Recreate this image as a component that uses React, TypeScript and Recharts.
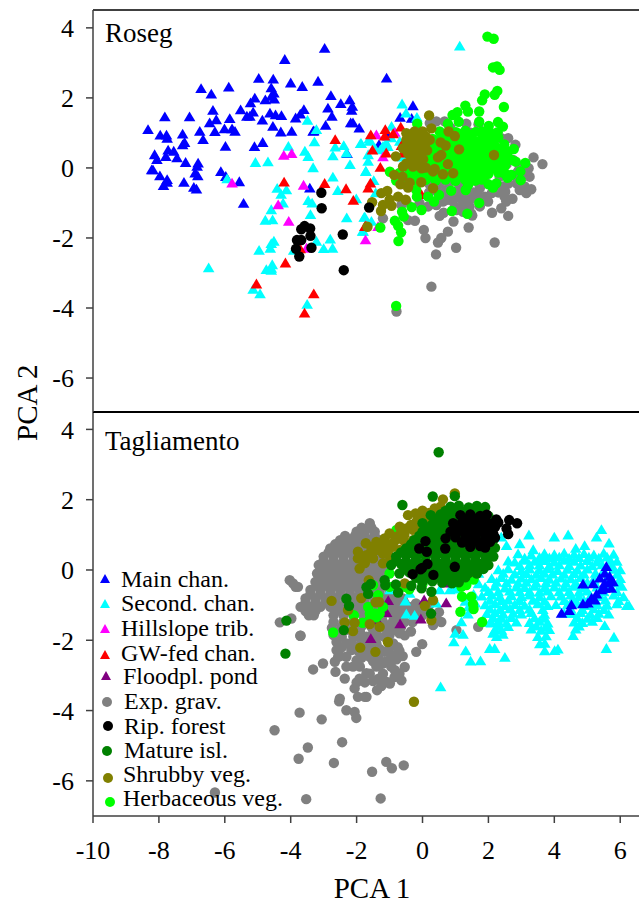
import React from "react";
import { ScatterChart, Scatter, XAxis, YAxis, ReferenceLine } from "recharts";

type Pt = [number, number];

const FONT = '"Liberation Serif", "Times New Roman", serif';
const xTicks = [-10, -8, -6, -4, -2, 0, 2, 4, 6];
const yTicks = [-6, -4, -2, 0, 2, 4];

const rosegMain: Pt[] = [[-2.97,3.41],[-4.18,3.09],[-4.97,2.55],[-4.53,2.53],[-4,2.42],[-3.17,2.47],[-3.65,2.32],[-5.88,2.3],[-6.72,2.26],[-6.41,2.1],[-4.59,2.28],[-4.51,2.13],[-4.59,2.04],[-4.5,1.96],[-4.77,1.94],[-5.09,1.99],[-5.22,1.85],[-2.78,2.06],[-2.48,1.83],[-2.21,1.94],[-2.13,1.75],[-2.15,1.64],[-2.87,1.7],[-6.36,1.64],[-5.52,1.65],[-5.14,1.59],[-5.33,1.47],[-5.24,1.47],[-7.82,1.45],[-7.07,1.45],[-5.85,1.4],[-6.26,1.37],[-6.46,1.28],[-4.63,1.56],[-4.46,1.51],[-4.28,1.49],[-3.6,1.66],[-3.71,1.53],[-3.85,1.42],[-4.86,1.36],[-2.75,1.47],[-2.94,1.21],[-2.18,1.28],[-2.11,1.28],[-1.92,1.13],[-4.54,1.18],[-4.3,1.02],[-3.97,1.04],[-3.32,1.04],[-8.33,1.09],[-6.76,1.04],[-6.3,1.03],[-6.01,1.11],[-5.78,1.11],[-5.69,1.04],[-7.96,0.93],[-7.77,0.93],[-7.75,0.84],[-7.28,0.96],[-6.66,0.8],[-7.22,0.72],[-7.28,0.65],[-4.85,0.72],[-5.1,0.6],[-5.98,0.61],[-7.72,0.5],[-7.55,0.47],[-8.13,0.37],[-7.79,0.32],[-7.45,0.28],[-8.06,0.23],[-7.19,0.15],[-6.81,0.13],[-6.84,0.04],[-8.18,-0.06],[-8.22,-0.06],[-6.9,-0.15],[-6.82,-0.23],[-6.12,-0.11],[-5.97,-0.25],[-5.56,-0.4],[-7.97,-0.23],[-7.75,-0.34],[-7.75,-0.42],[-7.86,-0.51],[-7.24,-0.42],[-6.94,-0.56],[-6.86,-0.61],[-3.42,-0.58],[-5.43,-1.02],[-2.29,0.4],[-1.09,2.56],[-0.29,1.77],[-0.68,1.44],[-0.33,1.41],[-1.32,0.66],[-1.05,0.9],[-3.3,1.05]];

const rosegSecond: Pt[] = [[-3.49,1.35],[-3.22,1.09],[-3.28,0.74],[-2.65,0.59],[-2.39,0.63],[-4.07,0.61],[-3.57,0.47],[-3.47,0.32],[-2.72,0.34],[-2.31,0.42],[-1.88,0.69],[-5.07,0.15],[-4.69,0.17],[-3.32,0],[-2.2,0.09],[-1.72,-0.11],[-2.72,-0.27],[-4.41,-0.59],[-4.13,-0.63],[-4.29,-0.76],[-4.23,-1.01],[-2.57,-0.65],[-3.47,-0.94],[-3.35,-1.01],[-2.01,-0.89],[-4.59,-1.2],[-3.4,-1.34],[-4.77,-1.5],[-4.55,-1.49],[-2.3,-1.43],[-1.77,-1.42],[-4.51,-2.1],[-4.59,-2.17],[-4.62,-2.3],[-3.22,-2.1],[-2.8,-2.04],[-3,-2.31],[-2.73,-2.3],[-4.96,-2.36],[-3.91,-2.36],[-6.49,-2.86],[-4.56,-2.77],[-4.59,-2.87],[-4.74,-2.91],[-4.59,-2.93],[-5.14,-3.47],[-4.93,-3.6],[-3.5,-3.9],[-1.8,-1.82],[-5.93,-0.32],[1.13,3.47],[-0.62,1.82],[-0.5,1.56],[-0.17,1.44],[-0.94,1.18],[-1.62,0.82],[-1.86,0.69],[-1.65,0.37],[-1.65,0.18],[-1.72,-0.1],[-1.48,-0.37],[-1.42,-0.72],[-1.75,-1.41],[-1.55,-1.53],[-1.82,-1.82],[-1.2,0.61],[-0.69,0.75],[-1.45,0.56],[-0.49,-0.15],[-1.6,0.75],[-1.28,0.51],[-0.95,0.85],[-1.05,0.6],[-0.6,0.3],[-1.1,0.7]];

const rosegHillslope: Pt[] = [[-4.21,0.35],[-3.97,0.4],[-5.78,-0.44],[-3.61,-0.5],[-4.38,-1.06],[-4.06,-1.53],[-1.73,-2.06],[-3.52,-2.3],[-1.4,0.94],[-0.84,1.01],[-1.2,0.31],[-1.35,-1.68]];

const rosegGwFed: Pt[] = [[-2.65,0.8],[-4.2,-0.41],[-2.97,-0.45],[-2.32,-0.6],[-2.1,-0.93],[-1.65,-0.58],[-1.75,-1.68],[-3.71,-2.32],[-4.16,-2.72],[-5.04,-3.32],[-3.3,-3.6],[-3.58,-4.15],[-1.57,0.94],[-1.13,1.09],[-1.15,0.9],[-0.89,0.97],[-0.66,1.16],[-1.52,0.5],[-1.1,0.42],[-0.64,0.63],[-1.28,0.01],[-1.58,-0.44],[-1.72,-1.66],[-0.59,0.42],[-0.03,-0.77]];

const rosegGravel: Pt[] = [[0.27,-3.39],[-0.79,-4.1],[2.19,-2.13],[1.02,-2.28],[0.41,-2.47],[0.47,-2.13],[0.57,-2],[0.09,-2],[0.04,-1.77],[0.77,-1.82],[1.4,-1.7],[0.94,-1.53],[-0.23,-1.51],[-0.44,-1.49],[-1.2,-1.44],[0.52,-1.37],[0.64,-1.28],[1.51,-1.36],[2.11,-1.28],[2.6,-1.37],[2.39,-1.15],[3.64,0.11],[3.37,0.3],[3.22,-0.01],[3.25,-0.25],[3.3,-0.61],[3.15,-0.72],[3.1,-0.53],[2.95,-0.63],[2.54,-0.96],[2.73,-0.88],[2.49,-0.82],[2.51,-0.68],[1.74,-1.1],[1.99,-0.96],[1.74,-0.58],[1.89,-0.82],[0.98,-1.1],[1.23,-1.1],[0.83,-0.91],[1.08,-0.82],[1.33,-0.87],[0.57,-0.77],[0.42,-1.06],[-0.64,-1.06],[-0.49,-0.96],[1.53,-0.82],[1.13,-0.58],[0.72,-0.63],[0.42,1.33],[0.67,1.33],[1.33,1.26],[1.43,1.01],[2.39,0.85],[2.82,0.66],[2.44,0.56],[2.75,0.23],[2.34,-0.25],[2.85,-0.44],[2.24,-0.53],[1.94,-0.44],[2.75,-0.2],[3.15,-0.15],[2.44,-0.53],[1.63,-0.72],[0.22,1.28],[-0.09,-1.01],[0.17,-1.1],[0.62,-0.96],[1.43,-1.1],[1.03,-1.2],[1.23,-1.25],[1.48,-1.3],[0.2,-0.45],[0.5,-0.47],[0.8,-0.44],[1.1,-0.46],[1.4,-0.45],[1.7,-0.43],[2.6,-0.45],[2.9,-0.1],[0.2,-0.7],[0.45,-0.68],[0.75,-0.72],[1,-0.7],[1.25,-0.68],[1.55,-0.7],[2.1,-0.72],[2.3,-0.7],[0.5,-0.9],[0.7,-0.92],[0.95,-0.88],[1.2,-0.92],[1.45,-0.9],[1.7,-0.88],[2.55,0.1],[2.95,0.05],[0.85,1.15],[1.7,1.25],[2.6,0.85]];

const rosegHerb: Pt[] = [[1.97,3.75],[2.16,3.69],[2.14,2.87],[2.26,2.9],[2.34,2.8],[2.27,2.2],[2.19,2.09],[1.89,2.1],[1.81,1.93],[2.47,1.74],[1.72,1.61],[1.3,1.78],[1.38,1.61],[1.06,1.59],[0.91,1.51],[1.72,1.32],[1.1,1.32],[0.77,1.26],[-0.16,1.26],[2.29,1.31],[2.44,1.18],[2.01,1.2],[1.81,1.04],[2.77,0.54],[3.12,0.14],[2.83,0.18],[2.97,-0.1],[2.98,-0.35],[2.7,-0.2],[2.58,-0.28],[2.24,-0.44],[2.14,-0.56],[2.01,-0.47],[1.72,-1],[1.36,-1.31],[0.89,-1.23],[1.38,-0.49],[1.31,-0.63],[0.87,-0.65],[0.5,-0.77],[0.35,-0.96],[0.17,-0.82],[-0.03,-1.2],[-0.33,-1.12],[-0.62,-1.25],[-0.57,-1.39],[-0.84,-1.51],[-0.74,-1.65],[-0.65,-1.84],[-0.73,-2.09],[-1.28,-1.7],[-0.17,-0.82],[-0.19,-0.63],[-0.99,-0.11],[-0.8,-3.94],
[0.52,1.04],[0.82,1.07],[1.02,1.02],[1.3,1.06],[1.62,1.03],[2.02,1.05],[2.28,1.02],[0.02,0.86],[0.31,0.83],[0.6,0.87],[0.92,0.84],[1.2,0.87],[1.5,0.83],[1.82,0.86],[2.08,0.84],[2.3,0.87],[-0.2,0.64],[0.1,0.67],[0.4,0.63],[0.7,0.66],[1,0.64],[1.3,0.67],[1.6,0.63],[1.9,0.66],[2.2,0.63],[2.48,0.67],[-0.3,0.46],[0,0.43],[0.3,0.47],[0.6,0.44],[0.9,0.47],[1.2,0.43],[1.5,0.46],[1.8,0.44],[2.1,0.47],[2.4,0.43],[2.6,0.46],[-0.2,0.24],[0.1,0.27],[0.4,0.23],[0.7,0.26],[1,0.24],[1.3,0.27],[1.6,0.23],[1.9,0.26],[2.2,0.24],[2.5,0.27],[2.7,0.23],[-0.5,0.06],[-0.2,0.03],[0.1,0.07],[0.4,0.04],[0.7,0.06],[1,0.03],[1.3,0.07],[1.6,0.04],[1.9,0.06],[2.2,0.03],[2.5,0.06],[-0.7,-0.14],[-0.4,-0.17],[-0.1,-0.13],[0.2,-0.16],[0.5,-0.14],[0.8,-0.17],[1.1,-0.13],[1.4,-0.16],[1.7,-0.14],[2,-0.17],[2.3,-0.13],[2.5,-0.16],[-0.8,-0.36],[-0.5,-0.33],[-0.2,-0.37],[0.1,-0.34],[0.4,-0.36],[0.7,-0.33],[1,-0.37],[1.3,-0.34],[1.6,-0.36],[1.8,-0.33],
[0.65,0.95],[1.15,0.97],[1.45,0.94],[1.95,0.95],[0.15,0.75],[0.45,0.76],[0.78,0.74],[1.05,0.76],[1.35,0.75],[1.65,0.74],[2.05,0.76],[0.25,0.55],[0.55,0.54],[0.85,0.56],[1.1,0.55],[1.4,0.54],[1.7,0.56],[2,0.55],[2.3,0.54],[0.15,0.35],[0.45,0.34],[0.75,0.36],[1.05,0.35],[1.35,0.34],[1.65,0.36],[1.95,0.35],[2.25,0.34],[0.25,0.15],[0.55,0.14],[0.85,0.16],[1.15,0.15],[1.45,0.14],[1.75,0.16],[2.05,0.15],[2.35,0.14],[0.25,-0.05],[0.55,-0.04],[0.85,-0.06],[1.15,-0.05],[1.45,-0.04],[1.75,-0.06],[2.05,-0.05],[2.35,-0.04],[-0.35,-0.05],[0.05,-0.25],[0.35,-0.24],[0.65,-0.26],[0.95,-0.25],[1.25,-0.24],[1.55,-0.26],[1.85,-0.25],[-0.35,-0.25],[-0.65,-0.25]];

const rosegShrub: Pt[] = [[0.2,1.5],[2.17,0.37],[1.11,0.53],[0.98,0.91],[0.79,1.04],[0.55,0.73],[0.7,0.64],[0.57,0.37],[0.47,0.3],[0.77,0.11],[0.37,-0.03],[0.32,-0.1],[0.62,-0.18],[0.93,-0.15],[0.27,1.13],[0.1,0.01],[-0.81,0.33],[-0.86,-0.2],[-0.61,-0.25],[-0.67,-0.47],[-0.39,-0.42],[-0.44,-0.56],[-0.04,-0.41],[0.32,-0.58],[-1.25,-0.72],[-1.07,-0.66],[-0.74,-0.82],[-0.51,-0.91],[-1,-0.91],[-1.53,-0.98],[-1.2,-1.06],[-0.94,-1.08],[-1.26,-1.23],[-1.67,-1.68],[-0.49,0.99],[-0.24,1.04],[0,1.04],[0.22,0.8],[-0.59,0.56],[-0.49,0.8],[-0.29,0.85],[-0.03,0.85],[-0.39,0.56],[-0.19,0.66],[0,0.61],[0.14,0.5],[-0.44,0.42],[-0.24,0.42],[-0.03,0.42],[-0.34,0.28],[-0.09,0.13],[-0.49,0.13],[-0.59,0.04],[-0.29,0.04],[-0.03,-0.01],[-0.35,0.95],[-0.12,0.95],[0.1,0.9],[-0.4,0.7],[-0.15,0.75],[0.1,0.72],[-0.15,0.52],[-0.3,0.15],[-0.15,0.28],[0.02,0.25]];

const rosegForest: Pt[] = [[-3.07,-0.71],[-3.06,-1.15],[-1.62,-1.13],[-3.58,-1.66],[-3.68,-1.75],[-3.41,-1.73],[-3.4,-1.94],[-3.81,-2.06],[-3.68,-2.06],[-3.37,-2.28],[-3.84,-2.31],[-3.74,-2.53],[-2.42,-1.9],[-2.39,-2.92]];

const tagGravel: Pt[] = [[-1.6,1.33],[-2,1.09],[-1.75,1.09],[-1.45,1.09],[-2.5,0.85],[-2.2,0.85],[-1.9,0.85],[-1.6,0.85],[-1.3,0.85],[-2.8,0.61],[-2.5,0.61],[-2.2,0.61],[-1.9,0.61],[-1.6,0.61],[-1.3,0.61],[-3,0.38],[-2.7,0.38],[-2.4,0.38],[-2.1,0.38],[-1.8,0.38],[-1.5,0.38],[-1.2,0.38],[-1,0.38],[-3.15,0.14],[-2.85,0.14],[-2.55,0.14],[-2.25,0.14],[-1.95,0.14],[-1.65,0.14],[-1.35,0.14],[-1.05,0.14],[-3.2,-0.1],[-2.9,-0.1],[-2.6,-0.1],[-2.3,-0.1],[-2,-0.1],[-1.7,-0.1],[-1.4,-0.1],[-1.1,-0.1],[-3.25,-0.34],[-2.95,-0.34],[-2.65,-0.34],[-2.35,-0.34],[-2.05,-0.34],[-1.75,-0.34],[-1.45,-0.34],[-1.15,-0.34],[-3.4,-0.57],[-3.1,-0.57],[-2.8,-0.57],[-2.5,-0.57],[-2.2,-0.57],[-1.9,-0.57],[-1.6,-0.57],[-1.3,-0.57],[-1,-0.57],[-3.55,-0.81],[-3.25,-0.81],[-2.95,-0.81],[-2.65,-0.81],[-2.35,-0.81],[-2.05,-0.81],[-1.75,-0.81],[-1.45,-0.81],[-1.15,-0.81],[-0.85,-0.81],[-0.6,-0.81],[-3.7,-1.05],[-3.4,-1.05],[-3.1,-1.05],[-2.8,-1.05],[-2.5,-1.05],[-2.2,-1.05],[-1.9,-1.05],[-1.6,-1.05],[-1.3,-1.05],[-1,-1.05],[-0.7,-1.05],[-0.4,-1.05],[-0.1,-1.05],[-3.45,-1.29],[-3.3,-1.29],[-2.7,-1.29],[-2.4,-1.29],[-2.1,-1.29],[-1.8,-1.29],[-1.5,-1.29],[-1.2,-1.29],[-0.9,-1.29],[-0.6,-1.29],[-0.3,-1.29],[0,-1.29],[0.4,-1.29],[-2.7,-1.48],[-2.4,-1.48],[-2.1,-1.48],[-1.8,-1.48],[-1.5,-1.48],[-1.2,-1.48],[-0.9,-1.48],[-0.55,-1.48],[-0.3,-1.48],[0.57,-1.48],
[-1.85,1.2],[-1.55,1.2],[-2.35,0.97],[-2.05,0.97],[-1.75,0.97],[-1.45,0.97],[-2.65,0.73],[-2.35,0.73],[-2.05,0.73],[-1.75,0.73],[-1.45,0.73],[-2.85,0.5],[-2.55,0.5],[-2.25,0.5],[-1.95,0.5],[-1.65,0.5],[-1.35,0.5],[-3,0.26],[-2.7,0.26],[-2.4,0.26],[-2.1,0.26],[-1.8,0.26],[-1.5,0.26],[-1.2,0.26],[-3.05,0.02],[-2.75,0.02],[-2.45,0.02],[-2.15,0.02],[-1.85,0.02],[-1.55,0.02],[-1.25,0.02],[-3.1,-0.22],[-2.8,-0.22],[-2.5,-0.22],[-2.2,-0.22],[-1.9,-0.22],[-1.6,-0.22],[-1.3,-0.22],[-3.2,-0.45],[-2.9,-0.45],[-2.6,-0.45],[-2.3,-0.45],[-2,-0.45],[-1.7,-0.45],[-1.4,-0.45],[-1.1,-0.45],[-3.4,-0.69],[-3.1,-0.69],[-2.8,-0.69],[-2.5,-0.69],[-2.2,-0.69],[-1.9,-0.69],[-1.6,-0.69],[-1.3,-0.69],[-1,-0.69],[-3.55,-0.93],[-3.25,-0.93],[-2.95,-0.93],[-2.65,-0.93],[-2.35,-0.93],[-2.05,-0.93],[-1.75,-0.93],[-1.45,-0.93],[-1.15,-0.93],[-0.85,-0.93],[-0.55,-0.93],[-3.55,-1.17],[-3.25,-1.17],[-2.65,-1.17],[-2.35,-1.17],[-2.05,-1.17],[-1.75,-1.17],[-1.45,-1.17],[-1.15,-1.17],[-0.85,-1.17],[-0.55,-1.17],[-0.25,-1.17],[0.05,-1.17],
[-2.75,-1.65],[-2.45,-1.62],[-2.15,-1.6],[-1.85,-1.6],[-1.55,-1.62],[-1.25,-1.6],[-0.95,-1.6],[-0.65,-1.62],[-2.7,-1.85],[-2.45,-1.9],[-2.1,-1.9],[-1.7,-1.9],[-1.35,-1.88],[-1,-1.85],[-0.7,-1.8],[-0.35,-1.75],[-2.15,-2.08],[-1.95,-2.3],[-1.7,-2.15],[-1.55,-2.2],[-1.3,-2.25],[-1,-2.2],[-0.75,-2.2],[-0.7,-2.3],[-2.45,-2.2],[-1.85,-2.5],[-1.5,-2.6],[-1.3,-2.7],[-0.95,-2.4],[-0.6,-2.45],[-0.95,-2.75],[-1.9,-2.75],[-0.85,-3.05],[-0.7,-2.95],[-1.2,-2.95],[-1.35,-3.1],[-1.75,-3.2],[-2,-3.2],[-1.25,-3.3],
[-4.03,-0.29],[-3.85,-0.48],[-3.98,-1.38],[-3.7,-1.87],[-3.93,-0.38],[-3.78,-0.48],[-4.33,-1.49],[-3.71,-1.87],[-3.32,-2.83],[-3.02,-2.66],[-2.66,-2.61],[-2.36,-3.09],[-2.64,-2.9],[-2.53,-3.74],[-2.06,-3.37],[-1.96,-3.61],[-1.75,-3.61],[-1.38,-3.42],[-1.5,-3.16],[-1.91,-3.09],[-1.7,-2.94],[-2.31,-3.99],[-2.06,-4.04],[-2.01,-4.21],[-3.73,-4.06],[-3.06,-4.25],[-4.49,-4.56],[-2.44,-4.9],[-3.48,-5.05],[-3.76,-5.37],[-2.69,-5.49],[-1.1,-5.46],[-1.53,-5.74],[-0.93,-5.64],[-0.57,-5.56],[-1.27,-6.5],[-3.53,-6.52],[-6.3,-6.33],[-2.61,-2.28],[-2.56,-2.47],[-2.01,-2.18],[-1.5,-2.28],[-1.2,-2.66],[-1,-2.56],[-2.31,-2.75],[-2.11,-2.75],[-1.4,-2.75],[-1.1,-3.18],[-1.89,-3.14],[-1.6,-2.95],[-0.99,-3.23],[-0.64,-3.14],[-0.84,-2.85],[-0.54,-2.76],[-0.79,-2.54],[-1.15,-2.62],[-0.19,-2.33],[-0.01,-2.11],[-0.54,-1.86],[-0.89,-2.09],[-1.15,-2.33],[-1.6,-2.47],[-2,-2.57],[-2.31,-2.47],[-2.61,-2.05],[-2.31,-2.09],[-1.86,-2],[-1.4,-2.09],[-1.15,-1.9],[-0.89,-1.71],[-1.75,-2.38],[-2.16,-2.28],[-1.35,-2.47],[-1.7,-3.61],[-2.51,-3.66],[0.32,-1.57],[1.03,-1.71],[1.69,-1.62],[-0.79,-1.33],[-0.59,-1.24],[-2.6,-1.75],[-2.3,-1.7],[-1.9,-1.75],[-1.5,-1.8],[-1.1,-1.68],[-2.5,-2.45],[-0.2,-0.95],[0.2,-1],[0.5,-1.2]];

const tagSecond: Pt[] = [[0.55,-3.33],[2.5,-2.49],[1.46,-2.6],[1.76,-2.59],[1.31,-2.31],[0.95,-2.05],[2.04,-2.24],[2.19,-2.24],[3.71,-2.31],[4.01,-2.3],[4.11,-2.26],[5.58,-2.24],[5.81,-1.92],[5.53,-1.59],[6.27,-1.02],[3.56,-2.11],[3.71,-2.09],[4.57,-1.87],[0.99,-1.81],[1.23,-1.84],[1.18,-1.48],[1.38,-1.26],[2.14,-1.81],[2.44,-1.84],[2.6,-1.62],[2.09,-1.52],[-0.49,-1.26],[-0.24,-1.3],[-0.52,-0.89],[0.42,-0.95],[-0.99,-0.57],[-0.39,-0.67],[0.52,-0.57],[0.83,-0.57],[3.23,0.99],[4,0.93],[4.42,0.99],[5.43,1.14],[5.28,0.93],[5.66,0.76],[2.55,0.69],[2.95,0.74],[3.36,0.57],[4.65,0.61],[4.92,0.69],[2.39,0.93],
[2.9,0.45],[3.3,0.42],[3.7,0.46],[4,0.43],[4.3,0.47],[4.6,0.44],[4.9,0.46],[5.2,0.42],[5.5,0.47],[5.8,0.44],[2.6,0.25],[2.8,0.22],[3.1,0.27],[3.4,0.24],[3.7,0.26],[4,0.22],[4.3,0.27],[4.6,0.24],[5,0.26],[5.3,0.22],[5.7,0.27],[5.9,0.24],[2.3,0],[2.6,0.03],[3,-0.02],[3.25,0.02],[3.55,-0.01],[3.8,0.03],[4.1,-0.02],[4.4,0.01],[4.7,-0.01],[5,0.02],[5.5,-0.02],[5.8,0.01],[6,0],[2.1,-0.25],[2.4,-0.22],[2.7,-0.27],[3,-0.24],[3.3,-0.26],[3.6,-0.22],[3.85,-0.27],[4.2,-0.24],[4.5,-0.26],[4.8,-0.22],[5.2,-0.27],[5.6,-0.24],[6,-0.25],[1.9,-0.5],[2.2,-0.47],[2.5,-0.52],[2.85,-0.49],[3.1,-0.51],[3.4,-0.47],[3.7,-0.52],[4,-0.49],[4.3,-0.5],[4.6,-0.47],[4.9,-0.52],[5.3,-0.49],[5.7,-0.5],[6.05,-0.47],[1.8,-0.75],[2.1,-0.72],[2.35,-0.77],[2.7,-0.74],[3,-0.76],[3.25,-0.72],[3.55,-0.77],[3.9,-0.74],[4.2,-0.75],[4.5,-0.72],[4.75,-0.77],[5.1,-0.74],[5.4,-0.76],[5.8,-0.72],[6.1,-0.77],[1.9,-1],[2.2,-0.97],[2.5,-1.02],[2.8,-0.99],[3.1,-1.01],[3.5,-0.97],[3.8,-1.02],[4.05,-0.99],[4.4,-1],[4.7,-0.97],[5,-1.02],[5.3,-0.99],[5.6,-1.01],[5.9,-0.97],[6.2,-1.02],[1.95,-1.25],[2.2,-1.22],[2.45,-1.27],[2.75,-1.24],[3,-1.26],[3.3,-1.22],[3.7,-1.27],[4.3,-1.24],[4.55,-1.25],[4.8,-1.22],[5.1,-1.27],[5.35,-1.24],[5.65,-1.26],[2.05,-1.5],[2.3,-1.47],[2.55,-1.52],[2.85,-1.49],[3.25,-1.5],[3.55,-1.47],[3.8,-1.52],[4.6,-1.49],[4.85,-1.5],[5.15,-1.47],[2.2,-1.7],[2.4,-1.72],[3.3,-1.69],[3.6,-1.72],[3.85,-1.7],[4.65,-1.69],[3.5,-1.9],[3.75,-1.88],[2.25,-1.9],[1,-0.55],[1.3,-0.9],[1.55,-0.7],[1.4,-1.05],[1.1,-0.3],[1.7,-0.4],[1.6,-0.95],[1.7,-0.1],
[3.1,0.33],[3.55,0.35],[3.85,0.34],[4.15,0.36],[4.45,0.33],[4.75,0.35],[5.05,0.36],[5.35,0.33],[5.6,0.36],[2.95,0.12],[3.25,0.14],[3.55,0.13],[3.85,0.11],[4.15,0.14],[4.45,0.12],[4.8,0.13],[5.15,0.11],[5.45,0.14],[5.75,0.12],[2.45,-0.1],[2.8,-0.12],[3.15,-0.11],[3.45,-0.13],[3.7,-0.1],[3.95,-0.12],[4.3,-0.13],[4.6,-0.11],[4.9,-0.12],[5.25,-0.1],[5.9,-0.13],[2.25,-0.36],[2.55,-0.37],[2.9,-0.38],[3.15,-0.36],[3.45,-0.38],[3.75,-0.37],[4.05,-0.36],[4.35,-0.38],[4.65,-0.37],[5,-0.36],[5.95,-0.38],[2,-0.62],[2.3,-0.63],[2.65,-0.61],[2.95,-0.63],[3.25,-0.62],[3.55,-0.64],[3.8,-0.61],[4.15,-0.63],[4.45,-0.62],[4.75,-0.64],[5,-0.61],[5.5,-0.63],[5.9,-0.62],[2.05,-0.87],[2.4,-0.88],[2.6,-0.86],[2.95,-0.88],[3.35,-0.87],[3.7,-0.89],[4.3,-0.88],[4.55,-0.86],[4.9,-0.88],[5.25,-0.87],[5.55,-0.86],[5.95,-0.88],[2.05,-1.12],[2.35,-1.13],[2.65,-1.11],[2.95,-1.13],[3.25,-1.12],[3.65,-1.13],[4.5,-1.12],[4.85,-1.13],[5.2,-1.11],[5.5,-1.13],[2.15,-1.37],[2.4,-1.38],[2.7,-1.36],[3.4,-1.37],[3.7,-1.38],[4.7,-1.37],[5,-1.38],[5.3,-1.36],[2.3,-1.6],[3.45,-1.6],[3.75,-1.62],[4.75,-1.6]];

const tagMain: Pt[] = [[5.58,0.09],[4.87,-0.41],[5.53,-0.1],[5.68,-0.19],[5.38,-0.24],[5.18,-0.4],[5.78,-0.34],[5.53,-0.38],[5.73,-0.53],[5.43,-0.57],[5.28,-0.69],[5.13,-0.81],[4.87,-0.97],[5.02,-0.95],[4.52,-1],[4.45,-1.16],[4.22,-1.24],[5.23,-0.86],[5.53,-0.53],[5.68,-0.34]];

const tagFloodplain: Pt[] = [[-1.04,-0.88],[-1.09,-1.22],[-1.38,-1.43],[-0.68,-1.54],[-1.57,-1.96],[-0.05,-1.4],[0.72,-0.94],[0.05,-0.86],[0.7,-0.38]];

const tagHerb: Pt[] = [[-2.71,-1.78],[-2.08,-1.29],[-1.82,-1.5],[-1.6,-1.24],[-1.45,-1.24],[-1.3,-1.24],[-1.35,-0.72],[-1.5,-0.43],[1.15,-1.19],[1.81,-1.48],[1.55,-1.11],[1.53,-0.97],[1.48,-0.76],[1.2,-0.76],[1.18,-0.48],[1.33,-0.43],[1.55,-0.27],[-0.54,-0.48],[-1,-0.1],[-0.79,1.14],[-1,-0.48],[0.83,-0.19],[-1.65,-1.05],[-1.2,-1.05],[-0.4,-0.55],[0,-0.4],[-1.6,-1.4],[-1.4,-1.35]];

const tagShrub: Pt[] = [[0.98,2.18],[0.62,2.01],[0.37,1.75],[0,1.69],[-0.21,1.61],[-0.44,1.56],[-0.08,1.33],[-0.69,1.23],[-1,1.04],[-1.4,0.8],[-1.72,0.76],[-1.96,0.52],[-1.96,0.33],[-1.91,0.04],[-1.7,0.42],[-1.4,0.57],[-1.1,0.76],[-0.79,0.95],[-0.49,1.18],[-0.19,1.37],[-1.5,0.33],[-1.2,0.47],[-0.9,0.66],[-0.59,0.85],[-0.69,0.57],[-0.99,0.38],[0.12,1.52],[0.42,1.61],[-0.29,1.14],[-0.29,0.85],[-1.2,0.19],[-2.76,-0.88],[-1.86,-0.8],[-1.63,-0.29],[-1.32,-0.91],[-1.42,-0.92],[-2.36,-1.49],[-2.06,-1.5],[-2.11,-1.74],[-1.6,-1.54],[-1.3,-1.62],[-1.05,-2.05],[-1.89,-2.21],[-1.43,-2.33],[-2.26,-1.14],[0.07,-1.02],[0.27,-1.43],[0.32,-0.86],[1.48,-0.05],[-0.26,-3.75],[-0.54,-0.38],[-1.75,0.2],[-1.55,0.55],[-1.25,0.65],[-1.05,0.55],[-0.85,0.82],[-0.55,1],[-0.35,1.28],[-0.05,1.15],[0.25,1.4],[0.55,1.8],[0.2,1.62],[-1.85,0.3],[-1.55,0.65],[-1.15,0.9],[-0.65,1.05],[-0.1,1.5]];

const tagMature: Pt[] = [[0.49,3.35],[-0.61,1.85],[0.31,2.09],[0.98,2.1],[-4.13,-1.44],[-4.16,-2.38],[-2.39,-1.71],[-2.31,-0.82],[-2.23,-1.02],[-1.7,-0.49],[-1.57,-0.4],[-1.65,-0.68],[-1.15,-0.29],[-1.13,-0.43],[0.26,-1.24],[-0.81,-0.41],[-0.74,-0.64],[-0.03,-0.52],[0.27,-0.62],[-0.34,-0.45],[0.9,-0.38],[0.85,1.8],[1.1,1.83],[1.4,1.78],[1.65,1.82],[1.9,1.79],[0.25,1.56],[0.55,1.58],[0.85,1.54],[1.15,1.57],[1.45,1.55],[1.75,1.58],[2,1.54],[0,1.33],[0.3,1.3],[0.6,1.35],[0.9,1.32],[1.2,1.34],[1.5,1.3],[1.8,1.35],[2.1,1.32],[0,1.09],[0.3,1.12],[0.6,1.07],[0.9,1.1],[1.2,1.08],[1.5,1.12],[1.8,1.07],[2.1,1.1],[-0.25,0.85],[0.05,0.88],[0.35,0.83],[0.65,0.86],[0.95,0.84],[1.25,0.88],[1.55,0.83],[1.85,0.86],[2.15,0.85],[-0.5,0.61],[-0.2,0.64],[0.1,0.59],[0.4,0.62],[0.7,0.6],[1,0.64],[1.3,0.59],[1.6,0.62],[1.9,0.6],[2.2,0.63],[-0.8,0.38],[-0.5,0.41],[-0.2,0.36],[0.1,0.39],[0.4,0.37],[0.7,0.41],[1,0.36],[1.3,0.39],[1.6,0.37],[1.9,0.41],[2.15,0.38],[-0.95,0.14],[-0.65,0.17],[-0.35,0.12],[-0.05,0.15],[0.25,0.13],[0.55,0.17],[0.85,0.12],[1.15,0.15],[1.45,0.13],[1.75,0.17],[2,0.14],[-0.7,-0.1],[-0.4,-0.07],[-0.1,-0.12],[0.2,-0.09],[0.5,-0.11],[0.8,-0.07],[1.1,-0.12],[1.4,-0.09],[1.65,-0.1],[0,-0.34],[0.3,-0.32],[0.6,-0.36],[0.9,-0.33],[1.1,-0.35],
[0.7,1.68],[1,1.7],[1.3,1.67],[1.6,1.69],[1.85,1.68],[0.4,1.45],[0.7,1.44],[1,1.46],[1.3,1.45],[1.6,1.44],[1.9,1.46],[0.15,1.21],[0.45,1.2],[0.75,1.22],[1.05,1.21],[1.35,1.2],[1.65,1.22],[1.95,1.21],[-0.1,0.97],[0.2,0.96],[0.5,0.98],[0.8,0.97],[1.1,0.96],[1.4,0.98],[1.7,0.97],[2,0.96],[-0.35,0.73],[-0.05,0.72],[0.25,0.74],[0.55,0.73],[0.85,0.72],[1.15,0.74],[1.45,0.73],[1.75,0.72],[2.05,0.74],[-0.65,0.5],[-0.35,0.49],[-0.05,0.51],[0.25,0.5],[0.55,0.49],[0.85,0.51],[1.15,0.5],[1.45,0.49],[1.75,0.51],[2.05,0.5],[-0.8,0.26],[-0.5,0.25],[-0.2,0.27],[0.1,0.26],[0.4,0.25],[0.7,0.27],[1,0.26],[1.3,0.25],[1.6,0.27],[1.9,0.26],[-0.55,0.02],[-0.25,0.01],[0.05,0.03],[0.35,0.02],[0.65,0.01],[0.95,0.03],[1.25,0.02],[1.55,0.01],[1.85,0.03],[-0.2,-0.22],[0.1,-0.23],[0.4,-0.21],[0.7,-0.22],[1,-0.23],[1.3,-0.21]];

const tagForest: Pt[] = [[1.15,1.56],[1.45,1.58],[1.75,1.54],[1.95,1.57],[0.93,1.33],[1.2,1.36],[1.5,1.31],[1.8,1.34],[2.1,1.32],[2.3,1.35],[0.85,1.09],[1.15,1.12],[1.45,1.07],[1.75,1.1],[2,1.08],[0.7,0.9],[1,0.93],[1.3,0.88],[1.6,0.91],[1.9,0.89],[2.2,0.92],[1.45,0.66],[1.75,0.68],[1.9,0.64],[1.3,1.45],[1.6,1.46],[1.9,1.44],[1.05,1.22],[1.35,1.21],[1.65,1.23],[1.95,1.2],[2.2,1.22],[1,1],[1.3,1],[1.6,1.01],[1.9,0.99],[2.15,1.02],[1.2,0.78],[1.5,0.79],[1.8,0.77],[2.05,0.8],[2.24,1.44],[2.63,1.42],[2.87,1.33],[2.55,1.18],[2.6,1.02],[0.09,0.82],[-0.1,0.61],[0.13,0.52],[0.69,0.61],[0.15,0.17],[-0.01,0.06],[-0.06,0.02],[-0.3,-0.12],[0.33,-0.14],[0.98,0.09]];

const legendRows: { label: string; color: string; shape: "triangle" | "circle" }[] = [
  { label: "Main chan.", color: "#0000ff", shape: "triangle" },
  { label: "Second. chan.", color: "#00ffff", shape: "triangle" },
  { label: "Hillslope trib.", color: "#ff00ff", shape: "triangle" },
  { label: "GW-fed chan.", color: "#ff0000", shape: "triangle" },
  { label: "Floodpl. pond", color: "#800080", shape: "triangle" },
  { label: "Exp. grav.", color: "#808080", shape: "circle" },
  { label: "Rip. forest", color: "#000000", shape: "circle" },
  { label: "Mature isl.", color: "#008000", shape: "circle" },
  { label: "Shrubby veg.", color: "#808000", shape: "circle" },
  { label: "Herbaceous veg.", color: "#00ff00", shape: "circle" },
];
const legendPlace = [
  { mx: 105, my: 579, tx: 121, ty: 587 },
  { mx: 105, my: 604, tx: 121, ty: 611 },
  { mx: 105, my: 629, tx: 121, ty: 636 },
  { mx: 105, my: 655, tx: 121, ty: 661 },
  { mx: 106, my: 676, tx: 123, ty: 684 },
  { mx: 107, my: 702, tx: 124, ty: 709 },
  { mx: 108, my: 726, tx: 124, ty: 734 },
  { mx: 107, my: 751, tx: 124, ty: 758 },
  { mx: 108, my: 778, tx: 123, ty: 782 },
  { mx: 110, my: 802, tx: 123, ty: 806 },
];

const toObjs = (pts: Pt[]) => pts.map(([x, y]) => ({ x, y }));
const tickStyle = { fontFamily: FONT, fontSize: 26, fill: "#000" };
const AXIS = { stroke: "#404040", strokeWidth: 1.5 };

const triShape = (color: string) => (p: any) => (
  <path d={`M${p.cx - 5.8} ${p.cy + 4.2}L${p.cx + 5.8} ${p.cy + 4.2}L${p.cx} ${p.cy - 5.6}Z`} fill={color} />
);
const dotShape = (color: string) => (p: any) => <circle cx={p.cx} cy={p.cy} r={5.2} fill={color} />;

const tri = (data: Pt[], color: string, key: string) => (
  <Scatter key={key} data={toObjs(data)} fill={color} shape={triShape(color)} isAnimationActive={false} />
);
const dot = (data: Pt[], color: string, key: string) => (
  <Scatter key={key} data={toObjs(data)} fill={color} shape={dotShape(color)} isAnimationActive={false} />
);

export default function App() {
  return (
    <div style={{ position: "absolute", left: 0, top: 0, width: 639, height: 904, background: "#fff" }}>
      <div style={{ position: "absolute", left: 0, top: 412 }}>
        <ScatterChart width={639} height={492} margin={{ top: 0, right: 0, bottom: 0, left: 0 }}>
          <XAxis type="number" dataKey="x" domain={[-10, 6.57]} ticks={xTicks} height={88} interval={0}
            tick={tickStyle} tickSize={7} tickMargin={18} axisLine={AXIS} tickLine={AXIS} />
          <YAxis type="number" dataKey="y" domain={[-7, 4.495]} ticks={yTicks} width={93} interval={0}
            tick={tickStyle} tickSize={7} tickMargin={12} axisLine={AXIS} tickLine={AXIS} />
          {dot(tagGravel, "#808080", "g")}
          {tri(tagSecond, "#00ffff", "c")}
          {tri(tagMain, "#0000ff", "b")}
          {tri(tagFloodplain, "#800080", "p")}
          {dot(tagHerb, "#00ff00", "h")}
          {dot(tagShrub, "#808000", "s")}
          {dot(tagMature, "#008000", "m")}
          {dot(tagForest, "#000000", "f")}
        </ScatterChart>
      </div>
      <div style={{ position: "absolute", left: 0, top: 0 }}>
        <ScatterChart width={639} height={414} margin={{ top: 10, right: 0, bottom: 2, left: 0 }}>
          <XAxis type="number" dataKey="x" domain={[-10, 6.57]} ticks={xTicks} height={0} interval={0} hide />
          <YAxis type="number" dataKey="y" domain={[-6.97, 4.51]} ticks={yTicks} width={93} interval={0}
            tick={tickStyle} tickSize={7} tickMargin={12} axisLine={AXIS} tickLine={AXIS} />
          <ReferenceLine y={4.51} stroke="#404040" strokeWidth={2} ifOverflow="visible" />
          <ReferenceLine y={-6.97} stroke="#000" strokeWidth={2} ifOverflow="visible" />
          {tri(rosegMain, "#0000ff", "b")}
          {tri(rosegSecond, "#00ffff", "c")}
          {tri(rosegHillslope, "#ff00ff", "hs")}
          {tri(rosegGwFed, "#ff0000", "r")}
          {dot(rosegGravel, "#808080", "g")}
          {dot(rosegHerb, "#00ff00", "h")}
          {dot(rosegShrub, "#808000", "s")}
          {dot(rosegForest, "#000000", "f")}
        </ScatterChart>
      </div>
      <svg width={639} height={904} style={{ position: "absolute", left: 0, top: 0, pointerEvents: "none" }} fontFamily={FONT} fill="#000">
        <text x={105} y={42} fontSize={27}>Roseg</text>
        <text x={105} y={450} fontSize={27}>Tagliamento</text>
        <text x={372} y={898} fontSize={29} textAnchor="middle">PCA 1</text>
        <text x={37} y={441} fontSize={29} transform="rotate(-90 37 441)">PCA 2</text>
        {legendRows.map((r, i) => {
          const p = legendPlace[i];
          return (
            <g key={r.label}>
              {r.shape === "triangle" ? (
                <path d={`M${p.mx - 5} ${p.my + 4}L${p.mx + 5} ${p.my + 4}L${p.mx} ${p.my - 5}Z`} fill={r.color} />
              ) : (
                <circle cx={p.mx} cy={p.my} r={5} fill={r.color} />
              )}
              <text x={p.tx} y={p.ty} fontSize={24}>{r.label}</text>
            </g>
          );
        })}
      </svg>
    </div>
  );
}
